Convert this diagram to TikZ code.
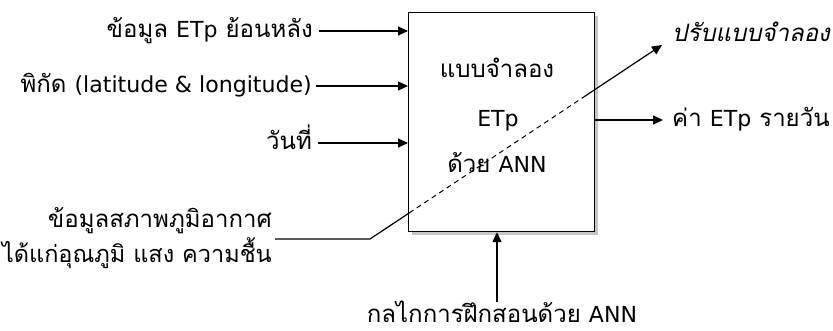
\documentclass[tikz,border=0pt]{standalone}
\usepackage{fontspec}
\setmainfont[Script=Thai]{Loma}
\newfontfamily\latfont{DejaVu Sans}[Scale=0.92]
\newcommand{\lat}[1]{{\latfont #1}}
\usetikzlibrary{arrows.meta,shadows,calc}
\begin{document}
\begin{tikzpicture}[x=1pt,y=-1pt,
  lbl/.style={inner sep=0pt,font=\fontsize{24}{29}\selectfont},
  conn/.style={line width=1.2pt},
  arr/.style={conn,-{Triangle[length=10pt,width=9pt]}},
  modelbox/.style={draw,line width=1.2pt,fill=white,inner sep=0pt,
     drop shadow={opacity=0.45,shadow xshift=3pt,shadow yshift=-3pt}}]
\useasboundingbox (0,0) rectangle (833,331);
% model box
\node[modelbox,minimum width=186pt,minimum height=219pt,anchor=north west] (box) at (408,12) {};
\node[lbl,anchor=base] (m1) at (497,78) {แบบจำลอง};
\node[lbl,anchor=base] (m2) at (498,127) {\lat{ETp}};
\node[lbl,anchor=base] (m3) at (497,173) {ด้วย \lat{ANN}};
% inputs
\node[lbl,anchor=base east] (in1) at (313,38) {ข้อมูล \lat{ETp} ย้อนหลัง};
\node[lbl,anchor=base east] (in2) at (312,93) {พิกัด \lat{(latitude \& longitude)}};
\node[lbl,anchor=base east] (in3) at (312,150) {วันที่};
\coordinate (s1) at (319,31);
\coordinate (s2) at (316,86);
\coordinate (s3) at (318,143);
\draw[arr] (s1) -- (s1 -| box.west);
\draw[arr] (s2) -- (s2 -| box.west);
\draw[arr] (s3) -- (s3 -| box.west);
% weather
\node[lbl,anchor=base east] (w1) at (272,228) {ข้อมูลสภาพภูมิอากาศ};
\node[lbl,anchor=base east,font=\fontsize{23.5}{28}\selectfont] (w2) at (272,263) {ได้แก่อุณภูมิ แสง ความชื้น};
\coordinate (wa) at (275,239);
\coordinate (wb) at (370,239);
\coordinate (wtip) at (662,45);
\coordinate (wl) at ($(wb)!0.1345!(wtip)$);
\coordinate (wr) at ($(wb)!0.7354!(wtip)$);
\draw[conn] (wa) -- (wb) -- (wl);
\draw[line width=1pt,dash pattern=on 5pt off 4pt] (wl) -- (wr);
\draw[arr] (wr) -- (wtip);
\node[lbl,anchor=base west] (adj) at (672,42) {\itshape ปรับแบบจำลอง};
% output
\node[lbl,anchor=base west] (out) at (672,127) {ค่า \lat{ETp} รายวัน};
\coordinate (o1) at (594,120);
\coordinate (o2) at (663,120);
\draw[arr] (o1) -- (o2);
% mechanism
\node[lbl,anchor=base] (mech) at (502,323) {กลไกการฝึกสอนด้วย \lat{ANN}};
\coordinate (mb) at (497,302);
\draw[arr] (mb) -- (mb |- box.south);
\end{tikzpicture}
\end{document}
